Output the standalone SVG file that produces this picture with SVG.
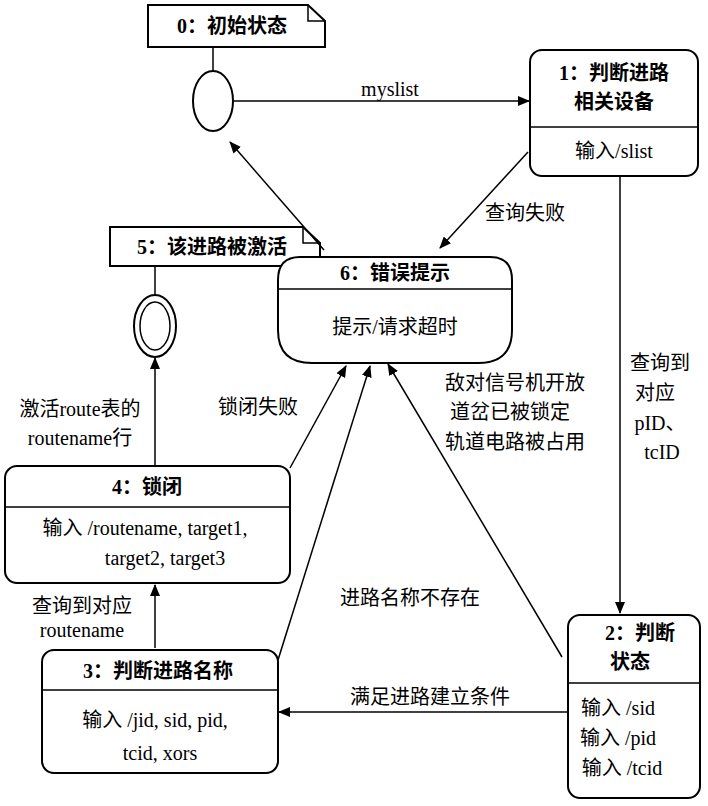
<svg xmlns="http://www.w3.org/2000/svg" width="708" height="806" viewBox="0 0 708 806">
<style>
text{font-family:"Liberation Serif","Noto Sans CJK SC",serif;font-size:20px;fill:#000;text-anchor:middle}
.b{font-weight:bold}
.s{fill:#fff;stroke:#000;stroke-width:2}
.l{fill:none;stroke:#000;stroke-width:1.5}
.c{stroke:#000;stroke-width:1.5;fill:none;marker-end:url(#a)}
</style>
<defs><marker id="a" markerWidth="12" markerHeight="10" refX="11" refY="5" orient="auto" markerUnits="userSpaceOnUse"><path d="M0,0 L12,5 L0,10 Z" fill="#000"/></marker></defs>
<rect width="708" height="806" fill="#fff"/>
<g id="note0"><path class="s" d="M148,5 H308 L325,21 V47 H148 Z"/><path class="l" d="M308,5 V21 H325"/><text class="b" x="232" y="33">0：初始状态</text><line class="l" x1="213" y1="47" x2="213" y2="71"/></g>
<g id="init"><ellipse class="s" cx="213" cy="101" rx="20" ry="30"/></g>
<g id="note5"><path class="s" d="M110,227 H303 L320,243 V266 H110 Z"/><path class="l" d="M303,227 V243 H320"/><text class="b" x="212" y="254">5：该进路被激活</text><line class="l" x1="155" y1="266" x2="155" y2="295"/></g>
<g id="final"><ellipse class="s" cx="155" cy="326" rx="21" ry="31"/><ellipse class="l" cx="155" cy="326" rx="15" ry="24"/></g>
<g id="connectors">
<line class="c" x1="233" y1="101" x2="529" y2="101"/><text x="390" y="96">myslist</text>
<line class="c" x1="324" y1="250" x2="230" y2="142"/>
<line class="c" x1="528" y1="152" x2="440" y2="248"/><text x="525" y="220">查询失败</text>
<line class="c" x1="620" y1="176" x2="620" y2="613"/>
<text x="660" y="370">查询到</text><text x="655" y="400">对应</text><text x="660" y="430">pID、</text><text x="662" y="459">tcID</text>
<line class="c" x1="155" y1="466" x2="155" y2="358"/><text x="80" y="416">激活route表的</text><text x="80" y="445">routename行</text>
<line class="c" x1="290" y1="468" x2="346" y2="366"/><text x="258" y="414">锁闭失败</text>
<line class="c" x1="155" y1="648" x2="155" y2="585"/><text x="82" y="613">查询到对应</text><text x="82" y="637">routename</text>
<line class="c" x1="278" y1="660" x2="370" y2="366"/><text x="410" y="605">进路名称不存在</text>
<line class="c" x1="568" y1="712" x2="279" y2="712"/><text x="430" y="704">满足进路建立条件</text>
<line class="c" x1="562" y1="657" x2="388" y2="364"/>
<text x="515" y="390">敌对信号机开放</text><text x="510" y="419">道岔已被锁定</text><text x="515" y="449">轨道电路被占用</text>
</g>
<g id="n1"><rect class="s" x="530" y="50" width="168" height="126" rx="12"/><line class="l" x1="530" y1="127" x2="698" y2="127"/><text class="b" x="614" y="80">1：判断进路</text><text class="b" x="614" y="109">相关设备</text><text x="614" y="158">输入/slist</text></g>
<g id="n6"><path class="s" d="M300,257 H490 Q512,257 512,280 V330 Q512,363 478,363 H312 Q278,363 278,330 V280 Q278,257 300,257 Z"/><line class="l" x1="278" y1="289" x2="512" y2="289"/><text class="b" x="395" y="280">6：错误提示</text><text x="395" y="334">提示/请求超时</text></g>
<g id="n4"><rect class="s" x="5" y="466" width="285" height="117" rx="12"/><line class="l" x1="5" y1="507" x2="290" y2="507"/><text class="b" x="147" y="494">4：锁闭</text><text x="145" y="535">输入 /routename, target1,</text><text x="165" y="565">target2, target3</text></g>
<g id="n3"><rect class="s" x="42" y="650" width="236" height="123" rx="12"/><line class="l" x1="42" y1="690" x2="278" y2="690"/><text class="b" x="158" y="678">3：判断进路名称</text><text x="155" y="727">输入 /jid, sid, pid,</text><text x="160" y="760">tcid, xors</text></g>
<g id="n2"><rect class="s" x="568" y="615" width="132" height="183" rx="12"/><line class="l" x1="568" y1="683" x2="700" y2="683"/><text class="b" x="640" y="640">2：判断</text><text class="b" x="630" y="669">状态</text><text x="618" y="715">输入 /sid</text><text x="618" y="745">输入 /pid</text><text x="622" y="775">输入 /tcid</text></g>
</svg>
